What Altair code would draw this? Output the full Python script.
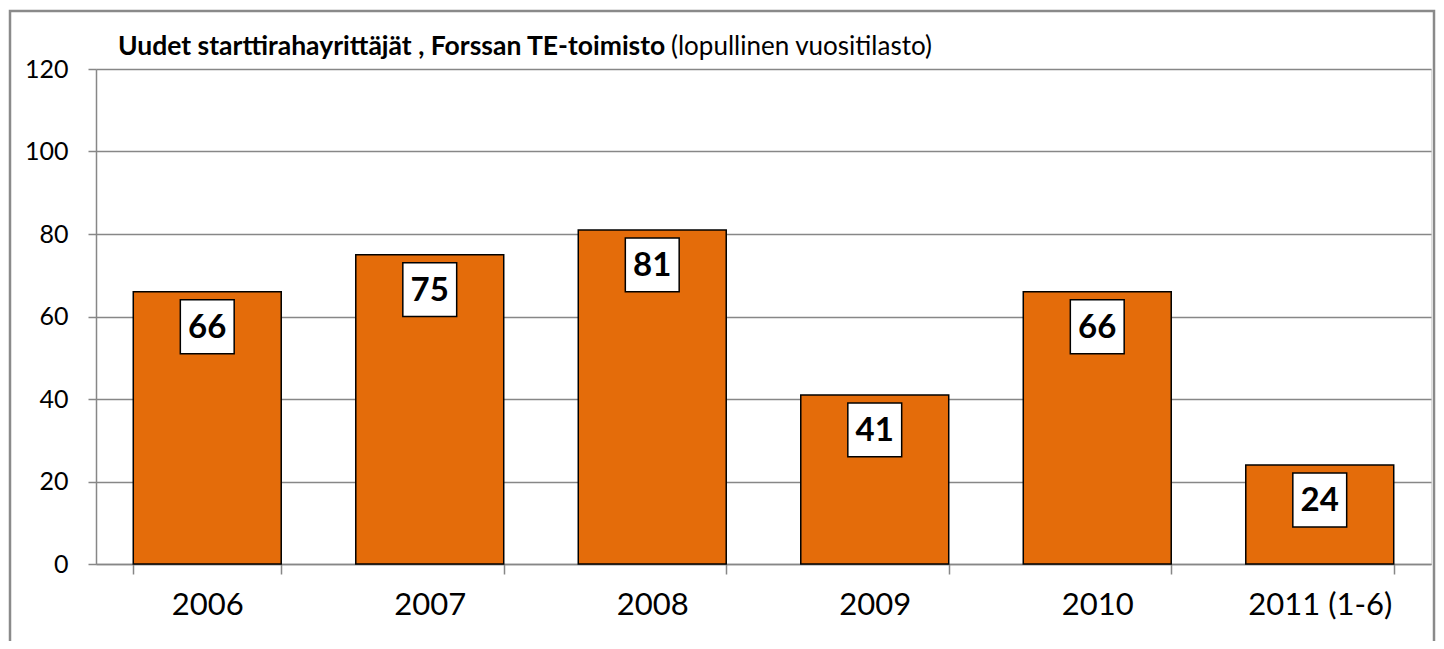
import altair as alt
import pandas as pd

years = ["2006", "2007", "2008", "2009", "2010", "2011 (1-6)"]
values = [66, 75, 81, 41, 66, 24]
title_bold = "Uudet starttirahayrittäjät , Forssan TE-toimisto"
title_normal = "(lopullinen vuositilasto)"
y_ticks = [0, 20, 40, 60, 80, 100, 120]

df = pd.DataFrame({"year": years, "value": values})

W, H = 1335, 495
FONT = "Lato"
GRAY = "#878787"

x_enc = alt.X(
    "year:N",
    sort=years,
    title=None,
    scale=alt.Scale(paddingInner=0.335, paddingOuter=0.1675),
    axis=alt.Axis(
        labelAngle=0,
        labelFontSize=31,
        labelFont=FONT,
        labelColor="black",
        labelPadding=16,
        tickSize=10,
        tickBand="extent",
        tickColor=GRAY,
        domainColor=GRAY,
        tickWidth=1.5,
        domainWidth=1.5,
        grid=False,
    ),
)
y_enc = alt.Y(
    "value:Q",
    title=None,
    scale=alt.Scale(domain=[0, 120], nice=False),
    axis=alt.Axis(
        values=y_ticks,
        labelFontSize=25,
        labelFont=FONT,
        labelColor="black",
        labelPadding=20,
        tickSize=8,
        tickColor=GRAY,
        domainColor=GRAY,
        tickWidth=1.5,
        domainWidth=1.5,
        gridColor=GRAY,
        gridWidth=1.5,
    ),
)

base = alt.Chart(df)

frame = alt.Chart(pd.DataFrame({"f": [1]})).mark_rect(
    fillOpacity=0, stroke="#8a8a8a", strokeWidth=2.5
).encode(
    x=alt.value(-86), x2=alt.value(W + 3), y=alt.value(-58), y2=alt.value(H + 120)
)

bars = base.mark_bar(color="#E46C0A", stroke="black", strokeWidth=1.5).encode(
    x=x_enc, y=y_enc
)

boxes = base.mark_point(
    shape="square", filled=True, fill="white", stroke="black",
    strokeWidth=1.5, size=2900, opacity=1, yOffset=35
).encode(x=alt.X("year:N", sort=years), y="value:Q")

labels = base.mark_text(
    font=FONT, fontSize=33, fontWeight="bold", color="black",
    baseline="middle", yOffset=36
).encode(x=alt.X("year:N", sort=years), y="value:Q", text="value:Q")

t1 = alt.Chart(pd.DataFrame({"t": [title_bold]})).mark_text(
    font=FONT, fontSize=26.5, fontWeight="bold", color="black",
    align="left", baseline="alphabetic"
).encode(x=alt.value(22), y=alt.value(-14), text="t:N")

t2 = alt.Chart(pd.DataFrame({"t": [title_normal]})).mark_text(
    font=FONT, fontSize=26, color="black",
    align="left", baseline="alphabetic"
).encode(x=alt.value(575), y=alt.value(-14), text="t:N")

chart = alt.layer(frame, bars, boxes, labels, t1, t2).properties(
    width=W,
    height=H,
    autosize=alt.AutoSizeParams(type="none"),
    padding={"left": 88, "top": 61, "right": 5, "bottom": 77},
).configure_view(strokeWidth=0).configure(background="white")

chart.save("out.html", embed_options={"renderer": "svg", "actions": False})
